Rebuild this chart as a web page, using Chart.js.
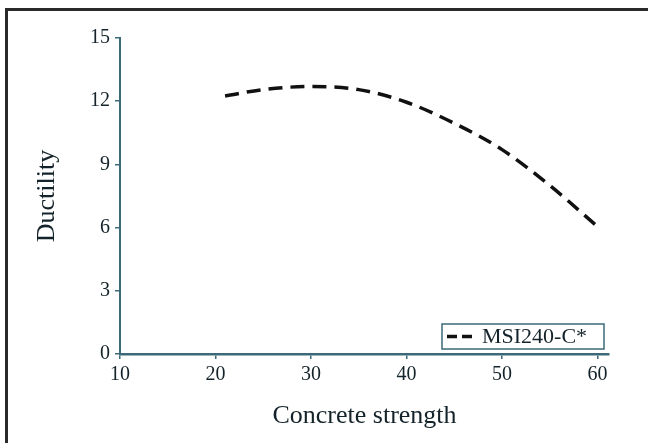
<!DOCTYPE html>
<html>
<head>
<meta charset="utf-8">
<script src="https://cdn.jsdelivr.net/npm/chart.js@4/dist/chart.umd.min.js"></script>
<style>
  html, body { margin: 0; padding: 0; background: #ffffff; }
  #wrap { position: relative; width: 648px; height: 443px; }
</style>
</head>
<body>
<div id="wrap"><canvas id="c" width="648" height="443"></canvas></div>
<script>
// ---- data ----
const strength = [21, 25, 30, 35, 40, 45, 50, 55, 60];
const ductility = [12.25, 12.55, 12.7, 12.55, 11.95, 10.95, 9.7, 8.0, 6.05];
const seriesLabel = 'MSI240-C*';
const xTicks = [10, 20, 30, 40, 50, 60];
const yTicks = [0, 3, 6, 9, 12, 15];
const xTitle = 'Concrete strength';
const yTitle = 'Ductility';

const axisColor = '#3d6a79';
const textColor = '#142329';
const fontFam = '"Liberation Serif", "Times New Roman", serif';

const frame = {
  id: 'frame',
  beforeDraw(chart) {
    const ctx = chart.ctx;
    ctx.save();
    ctx.fillStyle = '#ffffff';
    ctx.fillRect(0, 0, chart.width, chart.height);
    ctx.strokeStyle = '#2a2a2a';
    ctx.lineWidth = 3;
    ctx.beginPath();
    ctx.moveTo(6.5, chart.height + 10);
    ctx.lineTo(6.5, 9.5);
    ctx.lineTo(chart.width + 10, 9.5);
    ctx.stroke();
    ctx.restore();
  }
};

const boxLegend = {
  id: 'boxLegend',
  afterDraw(chart) {
    const ctx = chart.ctx;
    const ds = chart.data.datasets[0];
    const area = chart.chartArea;
    const x0 = area.right - 167, y0 = area.bottom - 30, w = 162, h = 25;
    ctx.save();
    ctx.fillStyle = '#ffffff';
    ctx.fillRect(x0, y0, w, h);
    ctx.strokeStyle = axisColor;
    ctx.lineWidth = 1.5;
    ctx.strokeRect(x0, y0, w, h);
    ctx.strokeStyle = ds.borderColor;
    ctx.lineWidth = ds.borderWidth;
    ctx.setLineDash([10, 5]);
    ctx.beginPath();
    ctx.moveTo(x0 + 5, y0 + h / 2);
    ctx.lineTo(x0 + 30, y0 + h / 2);
    ctx.stroke();
    ctx.setLineDash([]);
    ctx.fillStyle = textColor;
    ctx.font = '22px ' + fontFam;
    ctx.textBaseline = 'middle';
    ctx.fillText(ds.label, x0 + 40, y0 + h / 2 + 1);
    ctx.restore();
  }
};

new Chart(document.getElementById('c'), {
  type: 'line',
  data: {
    datasets: [{
      label: seriesLabel,
      data: strength.map((x, i) => ({ x: x, y: ductility[i] })),
      borderColor: '#111111',
      borderWidth: 3.5,
      borderDash: [14, 8],
      pointRadius: 0,
      cubicInterpolationMode: 'monotone',
      fill: false
    }]
  },
  options: {
    responsive: false,
    animation: false,
    devicePixelRatio: 1,
    layout: { padding: { left: 0, top: 38, right: 39, bottom: 0 } },
    plugins: { legend: { display: false }, tooltip: { enabled: false } },
    scales: {
      x: {
        type: 'linear',
        min: 10, max: 61.2,
        afterBuildTicks: s => { s.ticks = xTicks.map(v => ({ value: v })); },
        afterFit: s => { s.height = 89; },
        grid: { display: true, drawOnChartArea: false, drawTicks: true, tickLength: 5, color: axisColor, lineWidth: 1.5 },
        border: { display: true, color: axisColor, width: 2.5 },
        ticks: { color: textColor, font: { family: fontFam, size: 20 }, padding: 4, maxRotation: 0 },
        title: { display: true, text: xTitle, color: textColor, font: { family: fontFam, size: 26 }, padding: { top: 0, bottom: 11 } }
      },
      y: {
        type: 'linear',
        min: 0, max: 15,
        afterBuildTicks: s => { s.ticks = yTicks.map(v => ({ value: v })); },
        afterFit: s => { s.width = 120; },
        grid: { display: true, drawOnChartArea: false, drawTicks: true, tickLength: 5, color: axisColor, lineWidth: 1.5 },
        border: { display: true, color: axisColor, width: 2 },
        ticks: { color: textColor, font: { family: fontFam, size: 20 }, padding: 5 },
        title: { display: true, text: yTitle, color: textColor, font: { family: fontFam, size: 26 }, padding: { top: 32, bottom: 0 } }
      }
    }
  },
  plugins: [frame, boxLegend]
});
</script>
</body>
</html>
